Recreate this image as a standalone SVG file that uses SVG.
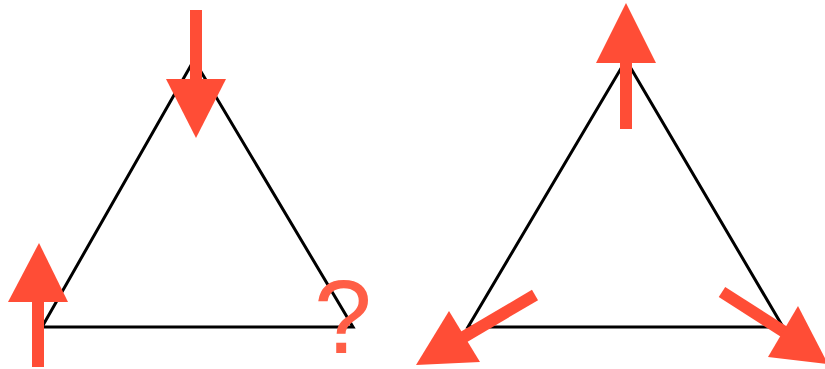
<svg xmlns="http://www.w3.org/2000/svg" width="825" height="369" viewBox="0 0 825 369">
<style>
.tri{fill:none;stroke:#000;stroke-width:3;stroke-linejoin:miter}
.shaft{stroke:#FF4D36;stroke-width:12;fill:none}
.head{fill:#FF4D36}
.q{font-family:"Liberation Sans",Arial,sans-serif;font-size:104px;fill:#FF5E46;text-anchor:middle}
</style>
<rect width="825" height="369" fill="#fff"/>
<g id="triangle-left">
<polygon class="tri" points="194,60 42,327 353,327"/>
</g>
<g id="triangle-right">
<polygon class="tri" points="626,60 468,327 783,327"/>
</g>
<g id="arrows">
<g id="arrow-left-top">
<line class="shaft" x1="196" y1="10" x2="196" y2="82"/>
<polygon class="head" points="166,79 226,79 196,138"/>
</g>
<g id="arrow-left-bottom">
<line class="shaft" x1="38" y1="367" x2="38" y2="298"/>
<polygon class="head" points="8,302 68,302 39,243"/>
</g>
<g id="arrow-right-top">
<line class="shaft" x1="626" y1="129" x2="626" y2="60"/>
<polygon class="head" points="596,63 656,63 626,3"/>
</g>
<g id="arrow-right-left">
<line class="shaft" x1="535" y1="295" x2="462" y2="338"/>
<polygon class="head" points="449,311 480,362 416,365"/>
</g>
<g id="arrow-right-right">
<line class="shaft" x1="722" y1="292" x2="786" y2="333"/>
<polygon class="head" points="798,306 768,357 828,364"/>
</g>
</g>
<g id="question">
<text class="q" x="343" y="353">?</text>
</g>
</svg>
